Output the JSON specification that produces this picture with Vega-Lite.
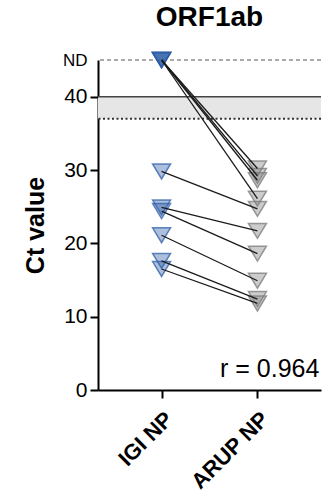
{
  "$schema": "https://vega.github.io/schema/vega-lite/v6.json",
  "autosize": "none",
  "padding": {"left": 98, "top": 60, "right": 2, "bottom": 111},
  "width": 223,
  "height": 330,
  "config": {
    "font": "Liberation Sans",
    "view": {"stroke": null}
  },
  "title": {
    "text": "ORF1ab",
    "font": "Liberation Sans",
    "fontSize": 28,
    "fontWeight": "bold",
    "color": "#000000",
    "anchor": "middle",
    "offset": 18
  },
  "datasets": {
    "pairs": [
      {"pair": 1, "group": "IGI NP", "ct": 45},
      {"pair": 1, "group": "ARUP NP", "ct": 30.2},
      {"pair": 2, "group": "IGI NP", "ct": 45},
      {"pair": 2, "group": "ARUP NP", "ct": 29.2},
      {"pair": 3, "group": "IGI NP", "ct": 45},
      {"pair": 3, "group": "ARUP NP", "ct": 28.6},
      {"pair": 4, "group": "IGI NP", "ct": 45},
      {"pair": 4, "group": "ARUP NP", "ct": 26.1},
      {"pair": 5, "group": "IGI NP", "ct": 29.8},
      {"pair": 5, "group": "ARUP NP", "ct": 24.7},
      {"pair": 6, "group": "IGI NP", "ct": 24.9},
      {"pair": 6, "group": "ARUP NP", "ct": 21.7},
      {"pair": 7, "group": "IGI NP", "ct": 24.4},
      {"pair": 7, "group": "ARUP NP", "ct": 18.6},
      {"pair": 8, "group": "IGI NP", "ct": 21.1},
      {"pair": 8, "group": "ARUP NP", "ct": 14.9},
      {"pair": 9, "group": "IGI NP", "ct": 17.6},
      {"pair": 9, "group": "ARUP NP", "ct": 12.4},
      {"pair": 10, "group": "IGI NP", "ct": 16.5},
      {"pair": 10, "group": "ARUP NP", "ct": 11.8}
    ]
  },
  "layer": [
    {
      "data": {"values": [{"lo": 37, "hi": 40}]},
      "mark": {"type": "rect", "fill": "#e6e6e6"},
      "encoding": {
        "y": {"field": "lo", "type": "quantitative", "scale": {"domain": [0, 45], "nice": false}},
        "y2": {"field": "hi"}
      }
    },
    {
      "data": {"values": [{"v": 40}]},
      "mark": {"type": "rule", "color": "#444444", "strokeWidth": 1.5},
      "encoding": {"y": {"field": "v", "type": "quantitative"}}
    },
    {
      "data": {"values": [{"v": 37}]},
      "mark": {"type": "rule", "color": "#333333", "strokeWidth": 2, "strokeDash": [2, 2.5]},
      "encoding": {"y": {"field": "v", "type": "quantitative"}}
    },
    {
      "data": {"values": [{"v": 45}]},
      "mark": {"type": "rule", "color": "#555555", "strokeWidth": 1, "strokeDash": [4, 3]},
      "encoding": {"y": {"field": "v", "type": "quantitative"}}
    },
    {
      "data": {"name": "pairs"},
      "mark": {
        "type": "point",
        "shape": "M-1,-0.83L1,-0.83L0,0.83Z",
        "size": 324,
        "filled": true,
        "fillOpacity": 0.4,
        "strokeWidth": 1.5,
        "strokeOpacity": 0.75
      },
      "encoding": {
        "x": {
          "field": "group",
          "type": "nominal",
          "sort": ["IGI NP", "ARUP NP"],
          "scale": {"type": "point", "padding": 0.663},
          "axis": {
            "title": null,
            "domainColor": "#000000",
            "domainWidth": 2,
            "tickColor": "#000000",
            "tickWidth": 2,
            "tickSize": 8,
            "labelAngle": -45,
            "labelFont": "Liberation Sans",
            "labelFontWeight": "bold",
            "labelFontSize": 22,
            "labelColor": "#000000",
            "labelPadding": 10
          }
        },
        "y": {
          "field": "ct",
          "type": "quantitative",
          "scale": {"domain": [0, 45], "nice": false},
          "axis": {
            "title": "Ct value",
            "titleFont": "Liberation Sans",
            "titleFontSize": 25,
            "titleFontWeight": "bold",
            "titleColor": "#000000",
            "titlePadding": 14,
            "values": [0, 10, 20, 30, 40, 45],
            "labelExpr": "datum.value == 45 ? 'ND' : datum.label",
            "labelFontSize": {"condition": {"test": "datum.value == 45", "value": 17}, "value": 21},
            "labelColor": "#000000",
            "labelPadding": 3,
            "tickColor": {"condition": {"test": "datum.value == 45", "value": "transparent"}, "value": "#000000"},
            "tickWidth": 2,
            "tickSize": 8,
            "domainColor": "#000000",
            "domainWidth": 2,
            "grid": false
          }
        },
        "fill": {
          "field": "group",
          "type": "nominal",
          "scale": {"domain": ["IGI NP", "ARUP NP"], "range": ["#2f5fa8", "#808080"]},
          "legend": null
        },
        "stroke": {
          "field": "group",
          "type": "nominal",
          "scale": {"domain": ["IGI NP", "ARUP NP"], "range": ["#2f5fa8", "#7a7a7a"]},
          "legend": null
        }
      }
    },
    {
      "data": {"name": "pairs"},
      "mark": {"type": "line", "color": "#1a1a1a", "strokeWidth": 1.3},
      "encoding": {
        "x": {"field": "group", "type": "nominal", "sort": ["IGI NP", "ARUP NP"]},
        "y": {"field": "ct", "type": "quantitative"},
        "detail": {"field": "pair", "type": "nominal"}
      }
    },
    {
      "data": {"values": [{"group": "ARUP NP", "ct": 1.8, "label": "r = 0.964"}]},
      "mark": {"type": "text", "align": "right", "baseline": "alphabetic", "dx": 62, "fontSize": 25, "font": "Liberation Sans", "color": "#000000"},
      "encoding": {
        "x": {"field": "group", "type": "nominal", "sort": ["IGI NP", "ARUP NP"]},
        "y": {"field": "ct", "type": "quantitative"},
        "text": {"field": "label"}
      }
    }
  ]
}
